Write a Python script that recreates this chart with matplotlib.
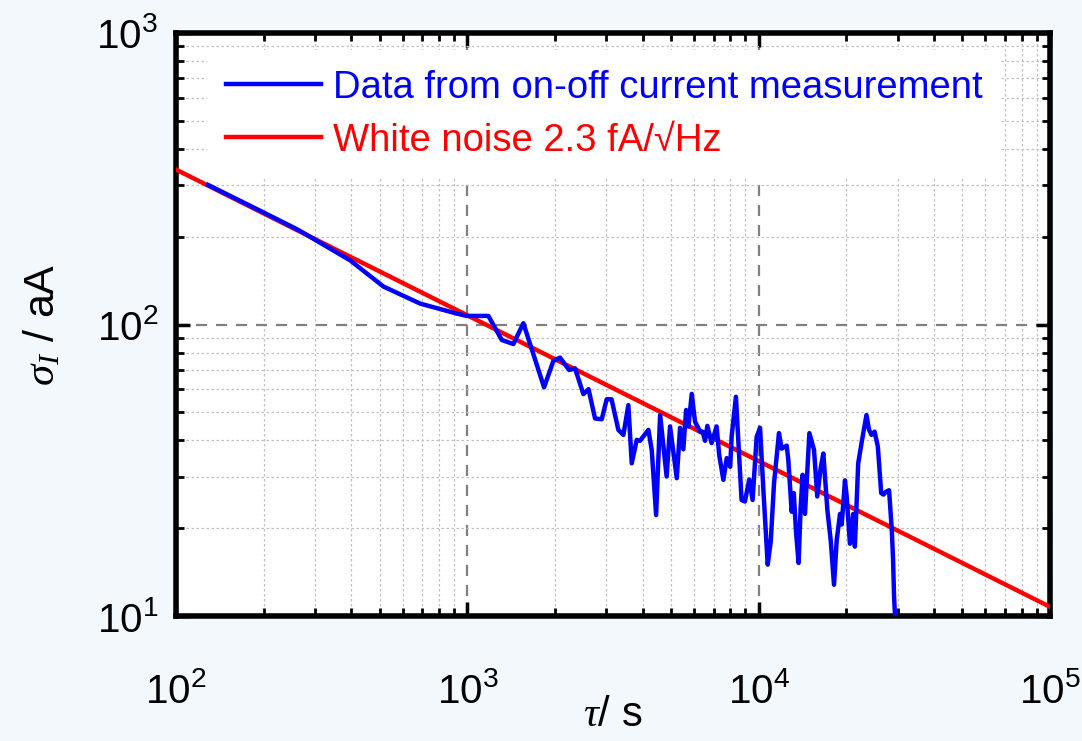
import matplotlib
matplotlib.use('Agg')
import matplotlib.pyplot as plt
import numpy as np
from matplotlib.ticker import LogLocator, NullFormatter

# measured Allan-type deviation of the current (tau in s, sigma in aA)
tau_data = [129, 197, 263, 396, 515, 688, 920, 995, 1181, 1313, 1439, 1557,
            1834, 1974, 2080, 2235, 2343, 2502, 2606, 2744, 2893, 3008, 3126,
            3299, 3433, 3570, 3667, 3815, 3915, 4182, 4295, 4446, 4589, 4832,
            4963, 5235, 5372, 5513, 5635, 5740, 5893, 6047, 6296, 6420, 6546,
            6666, 6895, 7172, 7320, 7565, 7770, 7985, 8075, 8355, 8735, 8970,
            9283, 9530, 9843, 10110, 10380, 10740, 11000, 11290, 11740, 11990,
            12480, 12640, 12980, 13200, 13420, 13710, 13930, 14150, 14420,
            14930, 15490, 15890, 16320, 16670, 17210, 17670, 18140, 18530,
            19020, 19280, 19780, 20050, 20570, 21110, 21390, 21960, 22540,
            22960, 23440, 23930, 24390, 25000, 25650, 26340, 26820, 27380,
            28030, 28640, 28930, 29160, 29400]
sigma_data = [301, 244, 211, 166, 135, 118, 109, 107, 107, 88.5, 85.7, 101,
              60.9, 75, 77, 69.8, 70.7, 57.7, 60, 47.6, 47.3, 55.4, 55.4,
              43.5, 41.8, 52.9, 33.4, 40.2, 39.9, 43.5, 37.1, 22.2, 48.9, 30.1,
              44.7, 29.7, 44.2, 37.3, 50.9, 44.7, 57.8, 46.4, 42.9, 42.9, 39.9,
              44.9, 39.2, 44.7, 35.7, 29.3, 34.8, 32.5, 41.2, 56.5, 25.0, 24.7,
              29.4, 25.0, 41.2, 44.2, 27.0, 15.0, 18.0, 28.5, 42.4, 37.5,
              38.4, 34.3, 22.8, 26.4, 19.7, 15.2, 23.4, 30.5, 22.4,
              42.4, 37.1, 25.7, 32.1, 36.1, 23.1, 18.2, 12.8, 18.2,
              22.4, 20.6, 29.2, 25.7, 17.7, 22.4, 17.3, 33.4, 39.1,
              43.5, 48.9, 43.5, 41.8, 42.9, 38.1, 26.4, 26.1, 26.7,
              27.0, 19.7, 15.6, 11.6, 9.9]

# white noise reference line (straight on log-log, two end points)
tau_white = [1e2, 1e5]
sigma_white = [340, 10.75]

label_data = 'Data from on-off current measurement'
label_white = 'White noise 2.3 fA/\u221aHz'

plt.rcParams['font.family'] = ['Liberation Sans', 'DejaVu Sans']
plt.rcParams['mathtext.fontset'] = 'custom'
plt.rcParams['mathtext.rm'] = 'Liberation Sans'
plt.rcParams['mathtext.it'] = 'Liberation Serif:italic'

fig = plt.figure(figsize=(10.82, 7.41), dpi=100, facecolor='#f3f8fd')
ax = fig.add_axes([176 / 1082, 1 - 616 / 741, 874 / 1082, 583 / 741])
ax.set_facecolor('white')

ax.plot(tau_white, sigma_white, color='#ff0000', linewidth=3.2, label=label_white, zorder=3)
ax.plot(tau_data, sigma_data, color='#0000ff', linewidth=3.2, label=label_data, zorder=4,
        solid_joinstyle='round')

ax.set_xscale('log')
ax.set_yscale('log')
ax.set_xlim(1e2, 1e5)
ax.set_ylim(1e1, 1e3)

ax.xaxis.set_minor_locator(LogLocator(base=10, subs=np.arange(2, 10)))
ax.yaxis.set_minor_locator(LogLocator(base=10, subs=np.arange(2, 10)))
ax.xaxis.set_minor_formatter(NullFormatter())
ax.yaxis.set_minor_formatter(NullFormatter())

ax.grid(True, which='minor', linestyle=(0, (2, 2)), color='#c0c0c0', linewidth=0.9, zorder=0)
ax.grid(True, which='major', linestyle=(0, (5, 4)), color='#808080', linewidth=1.6, zorder=0)

ax.tick_params(which='both', direction='in', top=True, right=True, colors='black')
ax.tick_params(which='major', length=10, width=2.5, labelsize=29)
ax.tick_params(which='minor', length=6, width=2)
ax.tick_params(axis='x', which='major', pad=40)
ax.tick_params(axis='y', which='major', pad=13)
for s in ax.spines.values():
    s.set_linewidth(4)

ax.set_xlabel(r'$\tau$/ s', fontsize=30, labelpad=-11)
ax.set_ylabel(r'$\sigma_I$ / aA', fontsize=31, labelpad=24)

handles, labels = ax.get_legend_handles_labels()
leg = ax.legend(handles[::-1], labels[::-1], loc='upper left', bbox_to_anchor=(0.035, 0.97),
                borderaxespad=0, borderpad=0.5, frameon=True, facecolor='white',
                edgecolor='none', framealpha=1, fancybox=False, fontsize=27.5,
                handlelength=2.5, handletextpad=0.3, labelspacing=0.45)
leg.set_zorder(5)
for text, line in zip(leg.get_texts(), leg.get_lines()):
    text.set_color(line.get_color())

fig.savefig('out.png', dpi=100, facecolor=fig.get_facecolor())
